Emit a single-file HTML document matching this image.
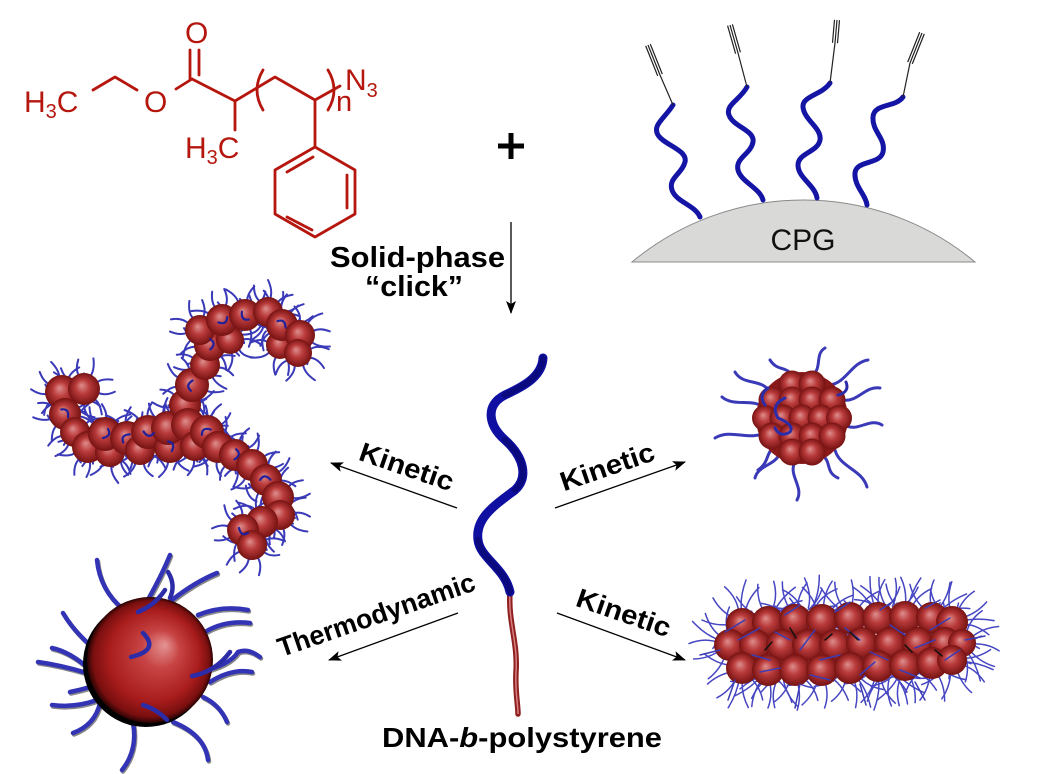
<!DOCTYPE html>
<html><head><meta charset="utf-8">
<style>
html,body{margin:0;padding:0;background:#fff;}
svg{display:block;}
.b{font-family:"Liberation Sans",Arial,sans-serif;font-weight:bold;fill:#000;}
.r{font-family:"Liberation Sans",Arial,sans-serif;fill:#b5160e;}
</style></head>
<body>
<svg width="1041" height="774" viewBox="0 0 1041 774" xmlns="http://www.w3.org/2000/svg" xmlns:xlink="http://www.w3.org/1999/xlink">
<defs>
 <radialGradient id="gw" cx="0.5" cy="0.5" r="0.5" fx="0.42" fy="0.38">
  <stop offset="0" stop-color="#de8e8e"/><stop offset="0.45" stop-color="#b93a3a"/><stop offset="1" stop-color="#761212"/>
 </radialGradient>
 <radialGradient id="gb" cx="0.5" cy="0.5" r="0.5" fx="0.62" fy="0.38">
  <stop offset="0" stop-color="#e49494"/><stop offset="0.3" stop-color="#c84444"/><stop offset="0.72" stop-color="#a81c1c"/><stop offset="0.92" stop-color="#7a0f0f"/><stop offset="1" stop-color="#2a0303"/>
 </radialGradient>
 <marker id="ah" markerWidth="14" markerHeight="10" refX="12" refY="5" orient="auto" markerUnits="userSpaceOnUse">
  <path d="M0,0 L13,5 L0,10 L3,5 z" fill="#000"/>
 </marker>
 <g id="hr" fill="none" stroke="#3a3ab8" stroke-width="2" stroke-linecap="round">
  <path d="M11.8,2.1 Q20,0 29.5,9.6 M7.7,9.2 Q10.6,17 22.3,20.1 M0,12 Q2.9,20.8 -5.6,31.5 M-8.5,8.5 Q-16.4,11.5 -17.9,22.9 M-12,1 Q-20.5,4.4 -30.9,-2.7 M-9.8,-6.9 Q-18.1,-8.5 -22.3,-20.1 M-2.5,-11.7 Q-1.8,-20.9 -10.9,-30.1 M5.6,-10.6 Q6.8,-18.8 17.2,-24.6 M10.9,-5.1 Q20.3,-5.4 26.3,-16.4"/>
 </g>
 <g id="hf" fill="none" stroke="#20209a" stroke-width="2.2" stroke-linecap="round">
  <path d="M-5,-3 Q2,-7 4,2"/>
 </g>
 <g id="hrod" fill="none" stroke="#4646c2" stroke-width="1.5" stroke-linecap="round">
  <path d="M10,0 Q25,-3 40,4 M8.1,5.9 Q21.7,12.5 28.2,25.4 M3.1,9.5 Q5.2,24.5 16.3,36.5 M-3.1,9.5 Q-4.2,23.6 -16.5,35.3 M-8.1,5.9 Q-21.7,12.5 -29.1,24.4 M-10,0 Q-25,3 -40,-4 M-8.1,-5.9 Q-21.7,-12.5 -29,-26.1 M-3.1,-9.5 Q-3.5,-24.8 -17.3,-37.2 M3.1,-9.5 Q4.2,-23.6 16.9,-36.3 M8.1,-5.9 Q18.6,-16.7 33.6,-17.8 M0,10 Q2,25 -3,42 M0,-10 Q-3,-25 4,-44"/>
 </g>
</defs>

<!-- Chemical structure -->
<g stroke="#b5160e" stroke-width="2.8" fill="none" stroke-linecap="round" stroke-linejoin="round">
 <path d="M93,90 L115,77 L137,90"/>
 <path d="M176,89 L192,79"/>
 <path d="M190,79 L190,50 M199,75 L199,50"/>
 <path d="M192,79 L235,101 L235,130"/>
 <path d="M235,101 L275,77 L315,100 L340,86"/>
 <path d="M315,100 L315,147"/>
 <path d="M315,147 L355,170 L355,214 L315,237 L275,214 L275,170 Z"/>
 <path d="M287,172 L313,157 M347,175 L347,208 M287,217 L312,230"/>
 <path d="M263,70 Q251,90 263,110"/>
 <path d="M328,70 Q340,90 328,110"/>
</g>
<text class="r" x="24" y="112" font-size="30">H<tspan font-size="20" dy="6">3</tspan><tspan dy="-6">C</tspan></text>
<text class="r" x="144" y="112" font-size="30">O</text>
<text class="r" x="185" y="43" font-size="30">O</text>
<text class="r" x="185" y="158" font-size="30">H<tspan font-size="20" dy="6">3</tspan><tspan dy="-6">C</tspan></text>
<text class="r" x="345" y="90" font-size="30">N<tspan font-size="20" dy="7">3</tspan></text>
<text class="r" x="336" y="111" font-size="29">n</text>

<!-- plus -->
<path d="M498,146 H524 M511,133 V159" stroke="#000" stroke-width="5"/>

<!-- CPG -->
<path d="M632,262 A268,268 0 0 1 975,262 Z" fill="#d9d9d7" stroke="#8a8a8a" stroke-width="1"/>
<text x="803" y="250" font-family="Liberation Sans,Arial,sans-serif" font-size="30" text-anchor="middle" fill="#111">CPG</text>
<g stroke="#1515a5" stroke-width="5" fill="none" stroke-linecap="round">
 <path d="M673,105 C665,118 652,125 658,135 C664,145 688,150 685,162 C682,174 668,178 672,190 C676,202 695,205 700,217"/>
 <path d="M747,87 C740,100 725,105 729,115 C733,127 755,130 753,142 C751,154 735,158 738,170 C741,182 760,188 763,200"/>
 <path d="M830,83 C822,95 802,96 803,107 C804,120 822,128 820,140 C818,152 798,153 798,165 C798,178 815,185 817,198"/>
 <path d="M903,97 C895,108 874,103 873,117 C872,132 886,138 883,152 C880,165 856,160 855,173 C854,186 866,195 867,205"/>
</g>
<g stroke="#222" stroke-width="1.2" fill="none">
 <path d="M673,105 L660,75 M660,75 L648,45 M662.3,74.1 L650.3,44.1 M657.7,75.9 L645.7,45.9"/>
 <path d="M747,87 L738,53 M738,53 L730,25 M740.4,52.3 L732.4,24.3 M735.6,53.7 L727.6,25.7"/>
 <path d="M830,83 L835,43 M835,43 L837,20 M837.5,43.2 L839.5,20.2 M832.5,42.8 L834.5,19.8"/>
 <path d="M903,97 L910,63 M910,63 L922,33 M912.3,63.9 L924.3,33.9 M907.7,62.1 L919.7,32.1"/>
</g>

<!-- arrows -->
<g stroke="#000" stroke-width="1.3" fill="none" marker-end="url(#ah)">
 <path d="M511,222 L511,313"/>
 <path d="M457,508 L331,463"/>
 <path d="M555,508 L685,462"/>
 <path d="M458,613 L329,660"/>
 <path d="M557,613 L685,660"/>
</g>

<!-- labels -->
<text class="b" x="330" y="267" font-size="29" textLength="175" lengthAdjust="spacingAndGlyphs">Solid-phase</text>
<text class="b" x="365" y="296" font-size="29" textLength="98" lengthAdjust="spacingAndGlyphs">“click”</text>
<text class="b" x="407" y="476" font-size="27" text-anchor="middle" textLength="98" lengthAdjust="spacingAndGlyphs" transform="rotate(19 407 466)">Kinetic</text>
<text class="b" x="607" y="476" font-size="27" text-anchor="middle" textLength="98" lengthAdjust="spacingAndGlyphs" transform="rotate(-19 607 466)">Kinetic</text>
<text class="b" x="376" y="624" font-size="27" text-anchor="middle" textLength="207" lengthAdjust="spacingAndGlyphs" transform="rotate(-19 376 614)">Thermodynamic</text>
<text class="b" x="624" y="622" font-size="27" text-anchor="middle" textLength="98" lengthAdjust="spacingAndGlyphs" transform="rotate(19 624 612)">Kinetic</text>
<text class="b" x="382" y="747" font-size="28" textLength="280" lengthAdjust="spacingAndGlyphs">DNA-<tspan font-style="italic">b</tspan>-polystyrene</text>

<!-- central DNA-b-PS -->
<path d="M510,592 C508,622 518,642 516,672 C515,692 518,704 518,714" stroke="#8f2020" stroke-width="5.5" fill="none" stroke-linecap="round"/>
<path d="M510,592 C508,622 518,642 516,672 C515,692 518,704 518,714" stroke="#d88080" stroke-width="1.5" fill="none"/>
<path d="M543,358 C542,378 520,388 505,395 C485,405 488,425 505,440 C525,458 528,478 515,490 C495,505 475,518 478,540 C480,558 505,568 510,592" stroke="#0f0fa2" stroke-width="9" fill="none" stroke-linecap="round"/>
<path d="M505,440 C525,458 528,478 515,490 M478,540 C480,558 505,568 510,592 M543,358 C542,378 520,388 505,395" stroke="#0a0a7e" stroke-width="6" fill="none" stroke-linecap="round"/>

<!-- worm (upper-left): hairs -->
<use href="#hr" xlink:href="#hr" transform="translate(62,392) rotate(0)"/>
<use href="#hr" xlink:href="#hr" transform="translate(84,389) rotate(37)"/>
<use href="#hr" xlink:href="#hr" transform="translate(65,414) rotate(74)"/>
<use href="#hr" xlink:href="#hr" transform="translate(75,432) rotate(111)"/>
<use href="#hr" xlink:href="#hr" transform="translate(88,447) rotate(148)"/>
<use href="#hr" xlink:href="#hr" transform="translate(110,452) rotate(185)"/>
<use href="#hr" xlink:href="#hr" transform="translate(105,434) rotate(222)"/>
<use href="#hr" xlink:href="#hr" transform="translate(127,438) rotate(259)"/>
<use href="#hr" xlink:href="#hr" transform="translate(140,450) rotate(296)"/>
<use href="#hr" xlink:href="#hr" transform="translate(148,432) rotate(333)"/>
<use href="#hr" xlink:href="#hr" transform="translate(170,447) rotate(10)"/>
<use href="#hr" xlink:href="#hr" transform="translate(168,428) rotate(47)"/>
<use href="#hr" xlink:href="#hr" transform="translate(185,405) rotate(84)"/>
<use href="#hr" xlink:href="#hr" transform="translate(192,385) rotate(121)"/>
<use href="#hr" xlink:href="#hr" transform="translate(205,365) rotate(158)"/>
<use href="#hr" xlink:href="#hr" transform="translate(210,345) rotate(195)"/>
<use href="#hr" xlink:href="#hr" transform="translate(200,330) rotate(232)"/>
<use href="#hr" xlink:href="#hr" transform="translate(230,340) rotate(269)"/>
<use href="#hr" xlink:href="#hr" transform="translate(222,320) rotate(306)"/>
<use href="#hr" xlink:href="#hr" transform="translate(245,315) rotate(343)"/>
<use href="#hr" xlink:href="#hr" transform="translate(268,312) rotate(20)"/>
<use href="#hr" xlink:href="#hr" transform="translate(280,345) rotate(57)"/>
<use href="#hr" xlink:href="#hr" transform="translate(282,325) rotate(94)"/>
<use href="#hr" xlink:href="#hr" transform="translate(300,335) rotate(131)"/>
<use href="#hr" xlink:href="#hr" transform="translate(298,353) rotate(168)"/>
<use href="#hr" xlink:href="#hr" transform="translate(188,425) rotate(205)"/>
<use href="#hr" xlink:href="#hr" transform="translate(195,446) rotate(242)"/>
<use href="#hr" xlink:href="#hr" transform="translate(207,432) rotate(279)"/>
<use href="#hr" xlink:href="#hr" transform="translate(218,447) rotate(316)"/>
<use href="#hr" xlink:href="#hr" transform="translate(235,455) rotate(353)"/>
<use href="#hr" xlink:href="#hr" transform="translate(252,465) rotate(30)"/>
<use href="#hr" xlink:href="#hr" transform="translate(266,480) rotate(67)"/>
<use href="#hr" xlink:href="#hr" transform="translate(278,497) rotate(104)"/>
<use href="#hr" xlink:href="#hr" transform="translate(280,515) rotate(141)"/>
<use href="#hr" xlink:href="#hr" transform="translate(262,522) rotate(178)"/>
<use href="#hr" xlink:href="#hr" transform="translate(243,530) rotate(215)"/>
<use href="#hr" xlink:href="#hr" transform="translate(252,545) rotate(252)"/>
<use href="#hr" xlink:href="#hr" transform="translate(70,400) rotate(160) scale(-1,1)"/>
<use href="#hr" xlink:href="#hr" transform="translate(120,445) rotate(80) scale(-1,1)"/>
<use href="#hr" xlink:href="#hr" transform="translate(200,437) rotate(200) scale(-1,1)"/>
<use href="#hr" xlink:href="#hr" transform="translate(270,320) rotate(300) scale(-1,1)"/>
<use href="#hr" xlink:href="#hr" transform="translate(265,510) rotate(20) scale(-1,1)"/>
<g fill="url(#gw)">
 <circle cx="62" cy="392" r="17"/><circle cx="84" cy="389" r="16"/><circle cx="65" cy="414" r="16"/><circle cx="75" cy="432" r="15"/>
 <circle cx="88" cy="447" r="16"/><circle cx="110" cy="452" r="15"/><circle cx="105" cy="434" r="17"/><circle cx="127" cy="438" r="17"/>
 <circle cx="140" cy="450" r="15"/><circle cx="148" cy="432" r="17"/><circle cx="170" cy="447" r="16"/><circle cx="168" cy="428" r="17"/>
 <circle cx="185" cy="405" r="16"/><circle cx="192" cy="385" r="17"/><circle cx="205" cy="365" r="15"/><circle cx="210" cy="345" r="16"/>
 <circle cx="200" cy="330" r="15"/><circle cx="230" cy="340" r="14"/><circle cx="222" cy="320" r="16"/><circle cx="245" cy="315" r="16"/>
 <circle cx="268" cy="312" r="15"/><circle cx="280" cy="345" r="14"/><circle cx="282" cy="325" r="16"/><circle cx="300" cy="335" r="15"/><circle cx="298" cy="353" r="14"/>
 <circle cx="188" cy="425" r="17"/><circle cx="195" cy="446" r="15"/><circle cx="207" cy="432" r="17"/><circle cx="218" cy="447" r="16"/>
 <circle cx="235" cy="455" r="16"/><circle cx="252" cy="465" r="16"/><circle cx="266" cy="480" r="16"/><circle cx="278" cy="497" r="16"/>
 <circle cx="280" cy="515" r="15"/><circle cx="262" cy="522" r="16"/><circle cx="243" cy="530" r="16"/><circle cx="252" cy="545" r="15"/>
</g>
<use href="#hf" xlink:href="#hf" transform="translate(65,414) rotate(20)"/>
<use href="#hf" xlink:href="#hf" transform="translate(105,434) rotate(90)"/>
<use href="#hf" xlink:href="#hf" transform="translate(148,432) rotate(160)"/>
<use href="#hf" xlink:href="#hf" transform="translate(170,447) rotate(40)"/>
<use href="#hf" xlink:href="#hf" transform="translate(192,385) rotate(250)"/>
<use href="#hf" xlink:href="#hf" transform="translate(207,432) rotate(300)"/>
<use href="#hf" xlink:href="#hf" transform="translate(222,320) rotate(120)"/>
<use href="#hf" xlink:href="#hf" transform="translate(245,315) rotate(200)"/>
<use href="#hf" xlink:href="#hf" transform="translate(282,325) rotate(10)"/>
<use href="#hf" xlink:href="#hf" transform="translate(235,455) rotate(70)"/>
<use href="#hf" xlink:href="#hf" transform="translate(266,480) rotate(330)"/>
<use href="#hf" xlink:href="#hf" transform="translate(243,530) rotate(180)"/>
<use href="#hf" xlink:href="#hf" transform="translate(127,438) rotate(280)"/>
<use href="#hf" xlink:href="#hf" transform="translate(210,345) rotate(60)"/>

<!-- big sphere (thermodynamic) -->
<g stroke-width="4.5" fill="none" stroke-linecap="round">
 <path stroke="#111" opacity="0.5" transform="translate(1,1.5)" d="M123,609 Q100,590 97,560 M145,605 Q162,575 170,555 M172,600 Q195,582 217,573 M198,615 Q222,605 248,610 M205,632 Q225,620 250,623 M200,672 Q230,665 238,652 Q248,648 260,657 M210,682 Q232,668 252,672 M203,697 Q220,705 227,722 M173,722 Q205,735 208,760 M133,723 Q138,750 122,770 M100,703 Q95,725 73,733 M97,700 Q75,708 52,705 M90,687 Q80,690 70,692 M87,673 Q60,665 38,662 M88,668 Q70,652 52,648 M90,645 Q73,630 63,613"/>
 <path stroke="#3333b5" d="M123,609 Q100,590 97,560 M145,605 Q162,575 170,555 M172,600 Q195,582 217,573 M198,615 Q222,605 248,610 M205,632 Q225,620 250,623 M200,672 Q230,665 238,652 Q248,648 260,657 M210,682 Q232,668 252,672 M203,697 Q220,705 227,722 M173,722 Q205,735 208,760 M133,723 Q138,750 122,770 M100,703 Q95,725 73,733 M97,700 Q75,708 52,705 M90,687 Q80,690 70,692 M87,673 Q60,665 38,662 M88,668 Q70,652 52,648 M90,645 Q73,630 63,613"/>
</g>
<circle cx="146" cy="664" r="63" fill="#000"/>
<circle cx="150" cy="660" r="63" fill="url(#gb)"/>
<g stroke="#2c2ca8" stroke-width="4.5" fill="none" stroke-linecap="round">
 <path d="M143,633 Q160,650 131,657"/>
 <path d="M143,705 Q158,710 167,720"/>
 <path d="M192,676 Q215,672 230,652"/>
 <path d="M138,612 Q155,605 165,590"/>
 <path d="M170,598 Q176,585 168,572"/>
</g>

<!-- cluster (upper-right) -->
<g stroke="#3a3ab8" stroke-width="3" fill="none" stroke-linecap="round">
 <path d="M770,392 C762,378 743,386 735,372"/>
 <path d="M765,408 C752.5,397.5 734.5,407.5 722,397"/>
 <path d="M766,432 C750,442 731,428 715,438"/>
 <path d="M780,452 C776.7,465.5 758.3,464.5 755,478"/>
 <path d="M795,462 C787.7,474.7 804.3,487.3 797,500"/>
 <path d="M835,450 C839.7,467.5 862.3,469.5 867,487"/>
 <path d="M845,425 C857.3,433 869.7,417 882,425"/>
 <path d="M843,400 C857.5,402.7 865.5,385.3 880,388"/>
 <path d="M830,385 C846.5,382.6 851.5,362.4 868,360"/>
 <path d="M812,375 C822.6,369 814.4,354 825,348"/>
 <path d="M793,376 C785,365 778,372 770,360"/>
 <path d="M776,446 C765,452 770,462 758,470"/>
 <path d="M822,455 C832,462 825,472 838,478"/>
</g>
<circle cx="802" cy="418" r="46" fill="#8a1a1a"/>
<g fill="url(#gw)">
 <circle cx="792" cy="384" r="13.5"/><circle cx="812" cy="384" r="13.5"/>
 <circle cx="772" cy="400" r="13.5"/><circle cx="792" cy="400" r="13.5"/><circle cx="812" cy="400" r="13.5"/><circle cx="832" cy="400" r="13.5"/>
 <circle cx="765" cy="418" r="13"/><circle cx="783" cy="418" r="13.5"/><circle cx="802" cy="418" r="13.5"/><circle cx="821" cy="418" r="13.5"/><circle cx="839" cy="418" r="13"/>
 <circle cx="772" cy="436" r="13.5"/><circle cx="792" cy="436" r="13.5"/><circle cx="812" cy="436" r="13.5"/><circle cx="832" cy="436" r="13.5"/>
 <circle cx="792" cy="452" r="13.5"/><circle cx="812" cy="452" r="13.5"/>
</g>
<g stroke="#2c2ca8" stroke-width="3" fill="none" stroke-linecap="round">
 <path d="M785,398 Q770,405 778,418 Q795,425 790,432 Q780,438 775,428"/>
 <path d="M765,405 Q758,395 768,388"/>
 <path d="M838,395 Q850,392 846,382"/>
</g>

<!-- rod (lower-right) -->
<use href="#hrod" xlink:href="#hrod" transform="translate(742,624) rotate(0)"/>
<use href="#hrod" xlink:href="#hrod" transform="translate(768,622) rotate(33)"/>
<use href="#hrod" xlink:href="#hrod" transform="translate(795,620) rotate(66)"/>
<use href="#hrod" xlink:href="#hrod" transform="translate(822,620) rotate(99)"/>
<use href="#hrod" xlink:href="#hrod" transform="translate(850,618) rotate(132)"/>
<use href="#hrod" xlink:href="#hrod" transform="translate(878,618) rotate(165)"/>
<use href="#hrod" xlink:href="#hrod" transform="translate(905,617) rotate(198)"/>
<use href="#hrod" xlink:href="#hrod" transform="translate(932,618) rotate(231)"/>
<use href="#hrod" xlink:href="#hrod" transform="translate(952,622) rotate(264)"/>
<use href="#hrod" xlink:href="#hrod" transform="translate(730,645) rotate(297)"/>
<use href="#hrod" xlink:href="#hrod" transform="translate(962,643) rotate(330)"/>
<use href="#hrod" xlink:href="#hrod" transform="translate(742,668) rotate(15)"/>
<use href="#hrod" xlink:href="#hrod" transform="translate(768,670) rotate(48)"/>
<use href="#hrod" xlink:href="#hrod" transform="translate(795,670) rotate(81)"/>
<use href="#hrod" xlink:href="#hrod" transform="translate(822,670) rotate(114)"/>
<use href="#hrod" xlink:href="#hrod" transform="translate(850,668) rotate(147)"/>
<use href="#hrod" xlink:href="#hrod" transform="translate(878,666) rotate(180)"/>
<use href="#hrod" xlink:href="#hrod" transform="translate(905,665) rotate(213)"/>
<use href="#hrod" xlink:href="#hrod" transform="translate(932,663) rotate(246)"/>
<use href="#hrod" xlink:href="#hrod" transform="translate(952,660) rotate(279)"/>
<use href="#hrod" xlink:href="#hrod" transform="translate(808,618) rotate(20) scale(-1,1)"/>
<use href="#hrod" xlink:href="#hrod" transform="translate(890,616) rotate(140) scale(-1,1)"/>
<use href="#hrod" xlink:href="#hrod" transform="translate(780,670) rotate(250) scale(-1,1)"/>
<use href="#hrod" xlink:href="#hrod" transform="translate(890,668) rotate(310) scale(-1,1)"/>
<g fill="url(#gw)">
 <circle cx="742" cy="624" r="16"/><circle cx="768" cy="622" r="16"/><circle cx="795" cy="620" r="16"/><circle cx="822" cy="620" r="16"/><circle cx="850" cy="618" r="16"/><circle cx="878" cy="618" r="16"/><circle cx="905" cy="617" r="16"/><circle cx="932" cy="618" r="16"/><circle cx="952" cy="622" r="16"/>
 <circle cx="730" cy="645" r="16"/><circle cx="755" cy="645" r="16"/><circle cx="782" cy="645" r="16"/><circle cx="808" cy="645" r="16"/><circle cx="835" cy="645" r="16"/><circle cx="862" cy="643" r="16"/><circle cx="890" cy="643" r="16"/><circle cx="918" cy="643" r="16"/><circle cx="945" cy="643" r="16"/><circle cx="962" cy="643" r="14"/>
 <circle cx="742" cy="668" r="16"/><circle cx="768" cy="670" r="16"/><circle cx="795" cy="670" r="16"/><circle cx="822" cy="670" r="16"/><circle cx="850" cy="668" r="16"/><circle cx="878" cy="666" r="16"/><circle cx="905" cy="665" r="16"/><circle cx="932" cy="663" r="16"/><circle cx="952" cy="660" r="15"/>
</g>
<g stroke="#3c3cb4" stroke-width="1.5" fill="none" stroke-linecap="round">
 <path d="M738,640 L760,628 M752,655 L770,660 M775,632 L790,640 M800,650 L815,630 M820,660 L840,655 M845,628 L860,640 M870,652 L888,660 M890,625 L905,635 M915,648 L935,640 M930,630 L950,618 M760,672 L780,668 M810,675 L830,680 M860,675 L875,662 M900,670 L920,678 M945,660 L960,650 M725,632 L745,620 M785,615 L800,605 M835,612 L850,602 M880,610 L895,600 M925,608 L940,600 M720,650 L700,655 M965,640 L985,636 M735,680 L728,700 M860,684 L866,705 M800,684 L795,708 M915,682 L925,700"/>
</g>
<g stroke="#111" stroke-width="1.5" fill="none" stroke-linecap="round">
 <path d="M790,628 L796,638 M850,632 L858,640 M905,645 L912,652 M765,650 L772,642 M825,640 L832,634 M935,650 L942,656"/>
</g>
</svg>
</body></html>
